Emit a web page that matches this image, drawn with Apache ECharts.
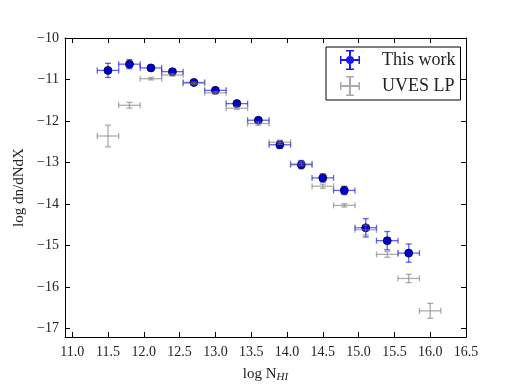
<!DOCTYPE html>
<html>
<head>
<meta charset="utf-8">
<script src="https://cdn.jsdelivr.net/npm/echarts@6/dist/echarts.min.js"></script>
<style>
  html, body { margin: 0; padding: 0; background: #fff; }
  #chart { width: 518px; height: 388px; }
</style>
</head>
<body>
<div id="chart"></div>
<script>
  // bin centres (log N_HI) and half width of the bins
  var logN = [11.5, 11.8, 12.1, 12.4, 12.7, 13.0, 13.3, 13.6, 13.9, 14.2, 14.5, 14.8, 15.1, 15.4, 15.7]
  var binHalf = 0.15
  // this work: log dn/dNdX and its error
  var thisWork = [-10.78, -10.63, -10.72, -10.81, -11.07, -11.26, -11.58, -11.98, -12.57, -13.05, -13.37, -13.67, -14.57, -14.88, -15.18]
  var thisWorkErr = [0.17, 0.11, 0.06, 0.04, 0.03, 0.04, 0.04, 0.05, 0.09, 0.1, 0.1, 0.1, 0.22, 0.22, 0.22]
  // UVES LP comparison
  var uvesN = [11.5, 11.8, 12.1, 12.4, 12.7, 13.0, 13.3, 13.6, 13.9, 14.2, 14.5, 14.8, 15.1, 15.4, 15.7, 16.0]
  var uves = [-12.36, -11.62, -10.98, -10.89, -11.09, -11.32, -11.69, -12.06, -12.51, -13.03, -13.57, -14.03, -14.62, -15.21, -15.79, -16.57]
  var uvesErr = [0.26, 0.07, 0.03, 0.03, 0.03, 0.03, 0.03, 0.04, 0.05, 0.05, 0.05, 0.04, 0.12, 0.07, 0.1, 0.18]
  // tick labels
  var xTicks = [11.0, 11.5, 12.0, 12.5, 13.0, 13.5, 14.0, 14.5, 15.0, 15.5, 16.0, 16.5]
  var yTicks = [-17, -16, -15, -14, -13, -12, -11, -10]

  var serif = 'Liberation Serif'

  function errData(xs, ys, es) {
    return xs.map(function (x, i) { return [x, ys[i], binHalf, es[i]] })
  }

  // matplotlib-like errorbar with caps
  function errRender(color, opacity) {
    return function (params, api) {
      var x = api.value(0), y = api.value(1), ex = api.value(2), ey = api.value(3)
      var l = api.coord([x - ex, y]), r = api.coord([x + ex, y])
      var t = api.coord([x, y + ey]), b = api.coord([x, y - ey])
      var cap = 3
      var st = { stroke: color, lineWidth: 1.3, opacity: opacity }
      var segs = [
        [l[0], l[1], r[0], r[1]],
        [t[0], t[1], b[0], b[1]],
        [l[0], l[1] - cap, l[0], l[1] + cap],
        [r[0], r[1] - cap, r[0], r[1] + cap],
        [t[0] - cap, t[1], t[0] + cap, t[1]],
        [b[0] - cap, b[1], b[0] + cap, b[1]]
      ]
      return {
        type: 'group',
        children: segs.map(function (s) {
          return { type: 'line', shape: { x1: s[0], y1: s[1], x2: s[2], y2: s[3] }, style: st }
        })
      }
    }
  }

  var errIcon = 'path://M0,9h20v2h-20z M9,0h2v20h-2z M0,6h1.5v8h-1.5z M18.5,6h1.5v8h-1.5z M6,0h8v1.5h-8z M6,18.5h8v1.5h-8z'
  var errDotIcon = errIcon + ' M14,10A4,4 0 1,1 6,10A4,4 0 1,1 14,10z'

  var axisBase = {
    type: 'value',
    axisLine: { show: true, onZero: false, lineStyle: { color: '#000', width: 1 } },
    splitLine: { show: false },
    axisTick: { inside: true, length: 5, lineStyle: { color: '#000' } }
  }

  var myChart = echarts.init(document.getElementById('chart'))
  myChart.setOption({
    animation: false,
    backgroundColor: '#fff',
    grid: { left: 65, right: 52, top: 38, bottom: 40 },
    xAxis: [
      Object.assign({}, axisBase, {
        min: 10.9, max: 16.5, position: 'bottom',
        axisTick: { inside: true, length: 5, lineStyle: { color: '#000' }, customValues: xTicks },
        axisLabel: {
          customValues: xTicks, margin: 8,
          fontFamily: serif, fontSize: 14, color: '#222',
          formatter: function (v) { return v.toFixed(1) }
        },
        name: 'log N{sub|HI}',
        nameLocation: 'middle', nameGap: 29,
        nameTextStyle: {
          fontFamily: serif, fontSize: 15, color: '#222',
          rich: { sub: { fontFamily: serif, fontSize: 11, fontStyle: 'italic', color: '#222', verticalAlign: 'bottom', padding: [6, 0, 0, 0] } }
        }
      }),
      Object.assign({}, axisBase, {
        min: 10.9, max: 16.5, position: 'top',
        axisTick: { inside: true, length: 5, lineStyle: { color: '#000' }, customValues: xTicks },
        axisLabel: { show: false }
      })
    ],
    yAxis: [
      Object.assign({}, axisBase, {
        min: -17.2, max: -10, position: 'left',
        axisTick: { inside: true, length: 5, lineStyle: { color: '#000' }, customValues: yTicks },
        axisLabel: {
          customValues: yTicks, margin: 6,
          fontFamily: serif, fontSize: 14, color: '#222',
          formatter: function (v) { return (v < 0 ? '\u2212' : '') + Math.abs(v) }
        },
        name: 'log dn/dNdX',
        nameLocation: 'middle', nameGap: 38, nameRotate: 90,
        nameTextStyle: { fontFamily: serif, fontSize: 15, color: '#222' }
      }),
      Object.assign({}, axisBase, {
        min: -17.2, max: -10, position: 'right',
        axisTick: { inside: true, length: 5, lineStyle: { color: '#000' }, customValues: yTicks },
        axisLabel: { show: false }
      })
    ],
    legend: {
      orient: 'vertical',
      left: 326, top: 47,
      padding: [3, 5, 4, 14],
      borderColor: '#000', borderWidth: 1,
      itemWidth: 20, itemHeight: 20, itemGap: 6,
      selectedMode: false,
      textStyle: { fontFamily: serif, fontSize: 18, color: '#222', padding: [0, 0, 0, 17] },
      data: [
        { name: 'This work', icon: errDotIcon, itemStyle: { color: '#1a1aee' } },
        { name: 'UVES LP', icon: errIcon, itemStyle: { color: '#aaaaaa' } }
      ]
    },
    series: [
      {
        name: 'This work', type: 'custom',
        renderItem: errRender('#1010ff', 0.65),
        data: errData(logN, thisWork, thisWorkErr),
        encode: { x: 0, y: 1 }, z: 2
      },
      {
        name: 'This work', type: 'scatter',
        symbol: 'circle', symbolSize: 8,
        itemStyle: { color: '#0000cc', borderColor: '#000033', borderWidth: 0.8, opacity: 1 },
        data: logN.map(function (x, i) { return [x, thisWork[i]] }),
        z: 3
      },
      {
        name: 'UVES LP', type: 'custom',
        renderItem: errRender('#777777', 0.6),
        data: errData(uvesN, uves, uvesErr),
        encode: { x: 0, y: 1 }, z: 4
      }
    ]
  })
</script>
</body>
</html>
